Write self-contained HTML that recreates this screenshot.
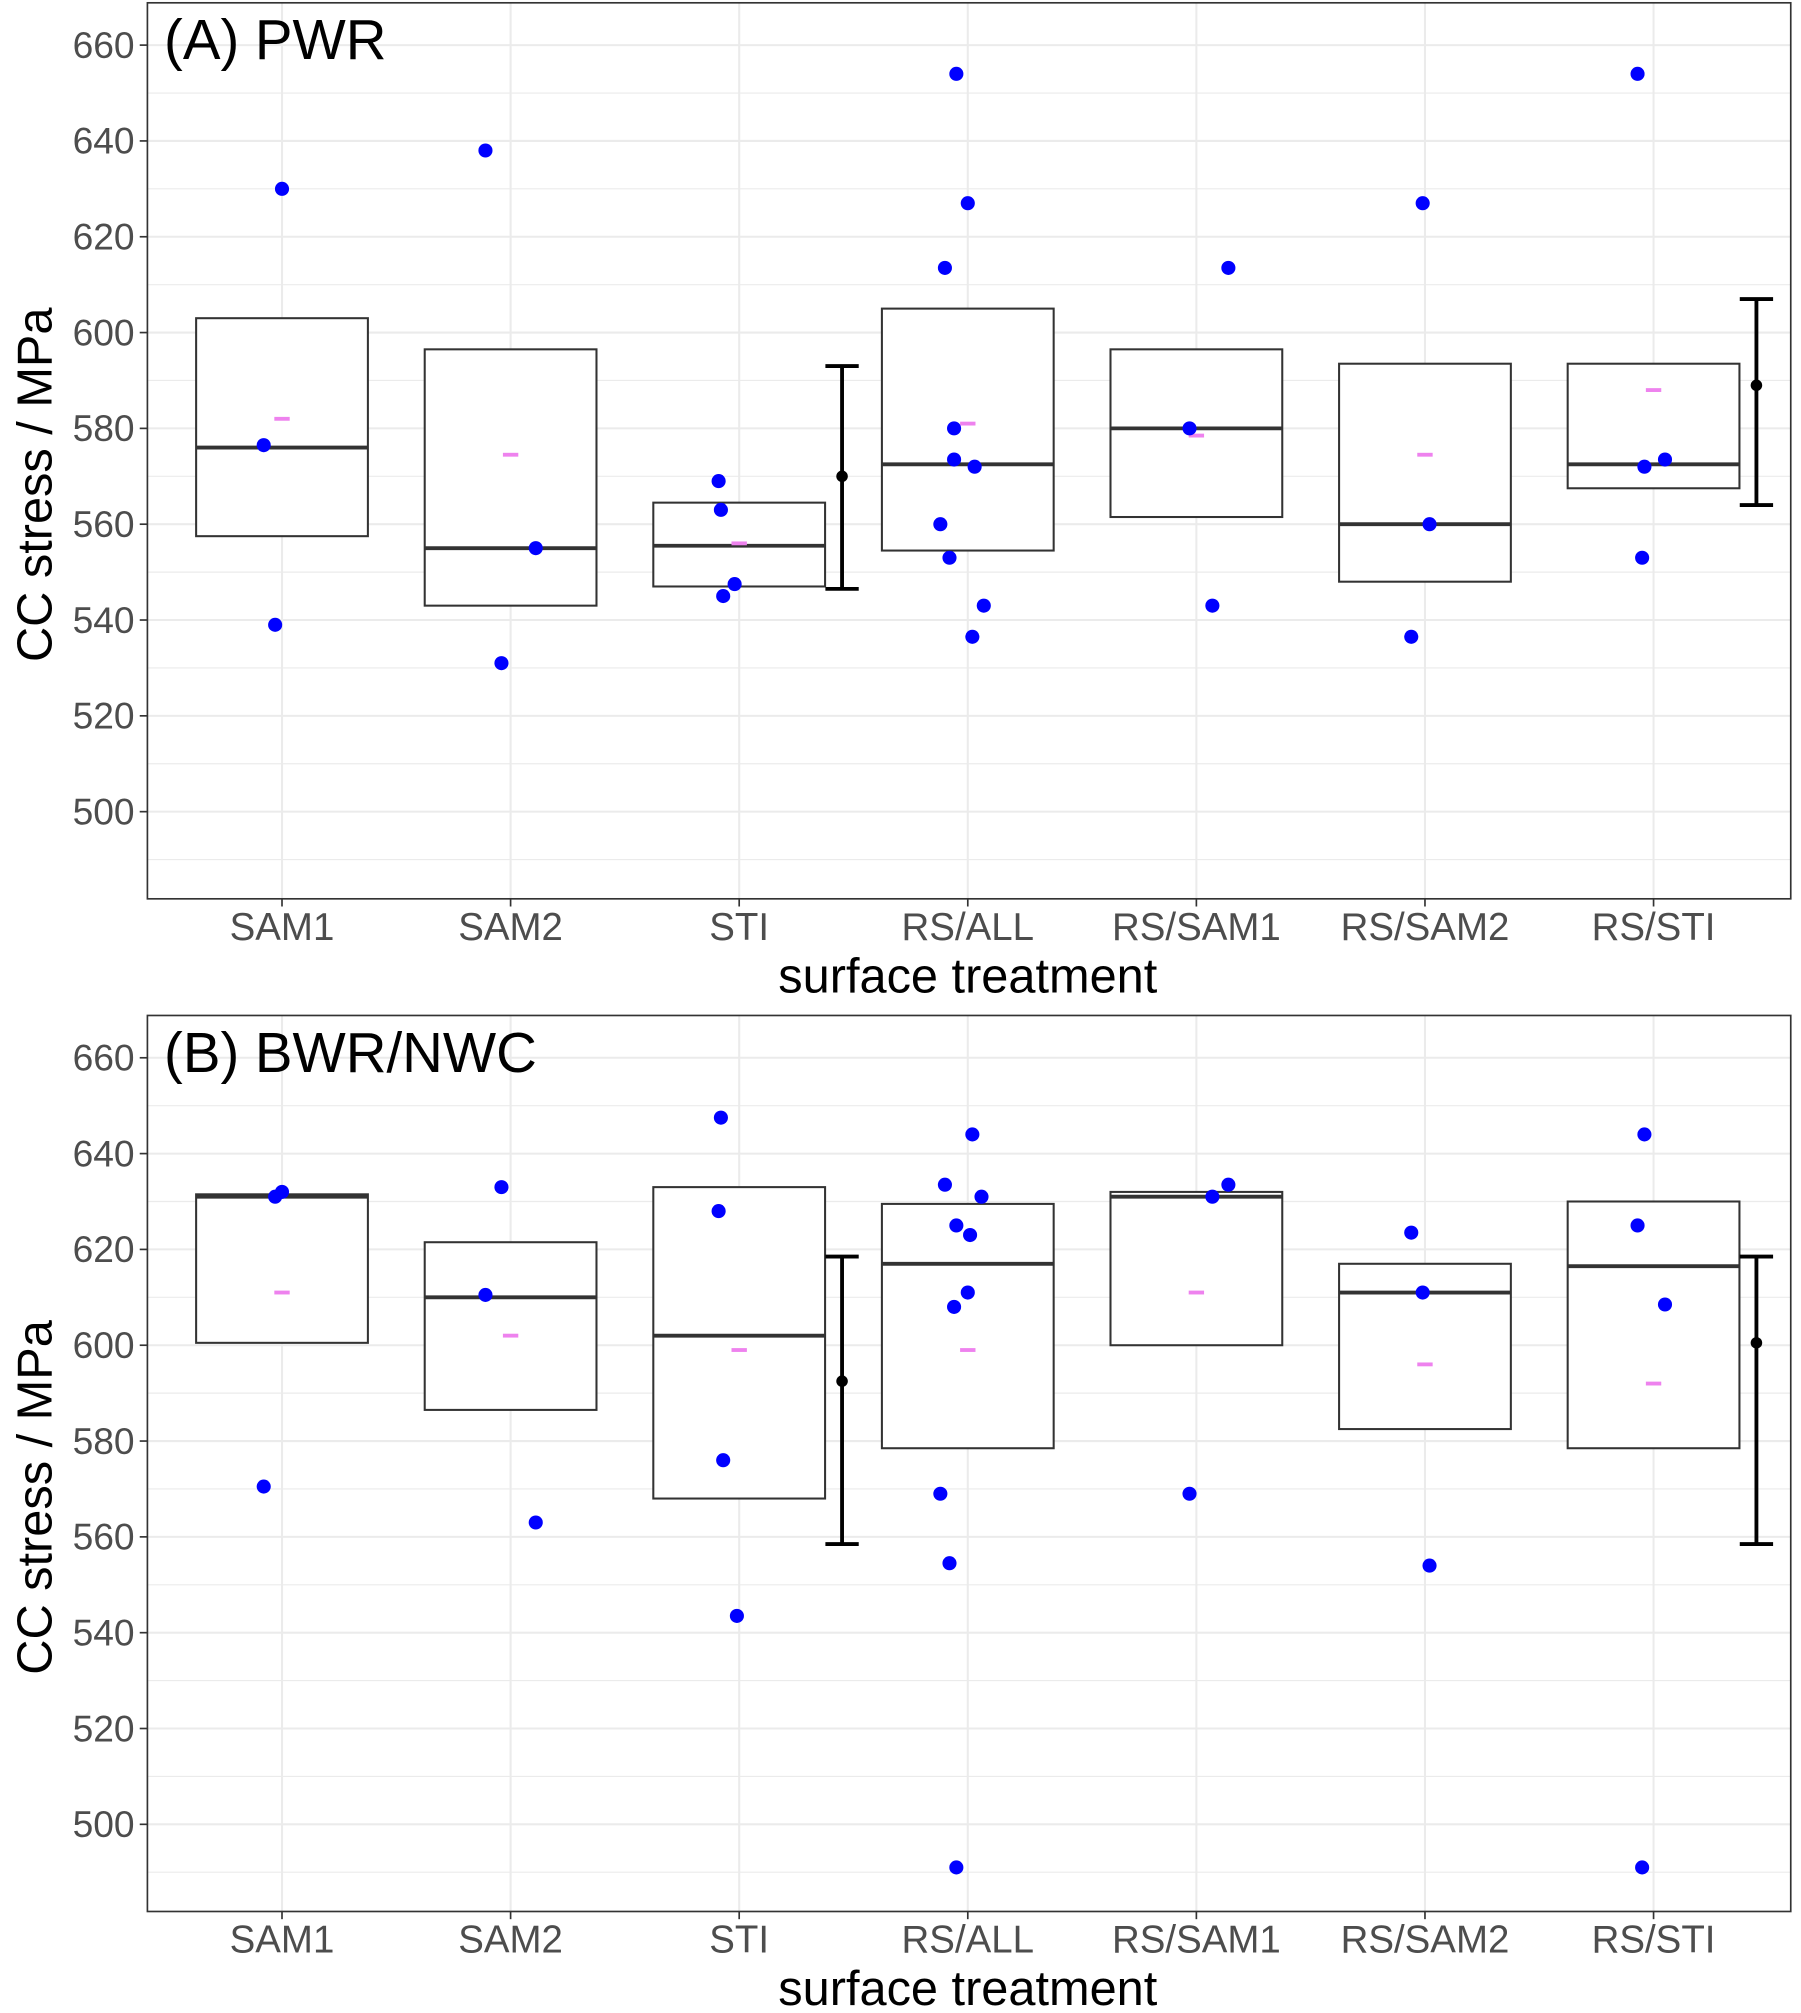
<!DOCTYPE html>
<html><head><meta charset="utf-8"><style>
html,body{margin:0;padding:0;background:#fff}
svg{display:block}
text{font-family:"Liberation Sans",Arial,sans-serif}
</style></head><body>
<svg id="chart" width="1801" height="2013" viewBox="0 0 1405 1570" xmlns="http://www.w3.org/2000/svg"></svg>
<script>
const categories=["SAM1","SAM2","STI","RS/ALL","RS/SAM1","RS/SAM2","RS/STI"];
const yTicks=[500,520,540,560,580,600,620,640,660];
// Panel A (PWR)
const aQ1=[557.5,543,547,554.5,561.5,548,567.5];
const aMed=[576,555,555.5,572.5,580,560,572.5];
const aQ3=[603,596.5,564.5,605,596.5,593.5,593.5];
const aMean=[582,574.5,556,581,578.5,574.5,588];
const aPoints=[[630,576.5,539],[638,555,531],[569,563,547.5,545],[654,627,613.5,580,573.5,572,560,553,543,536.5],[613.5,580,543],[627,560,536.5],[654,573.5,572,553]];
const aJitter=[[0,-0.08,-0.03],[-0.11,0.11,-0.04],[-0.09,-0.08,-0.02,-0.07],[-0.05,0,-0.1,-0.06,-0.06,0.03,-0.12,-0.08,0.07,0.02],[0.14,-0.03,0.07],[-0.01,0.02,-0.06],[-0.07,0.05,-0.04,-0.05]];
const aErr=[[546.5,570,593],[564,589,607]];
// Panel B (BWR/NWC)
const bQ1=[600.5,586.5,568,578.5,600,582.5,578.5];
const bMed=[631,610,602,617,631,611,616.5];
const bQ3=[631.5,621.5,633,629.5,632,617,630];
const bMean=[611,602,599,599,611,596,592];
const bPoints=[[631,632,570.5],[633,610.5,563],[647.5,628,576,543.5],[644,633.5,631,625,623,611,608,569,554.5,491],[633.5,631,569],[623.5,611,554],[644,625,608.5,491]];
const bJitter=[[-0.03,0,-0.08],[-0.04,-0.11,0.11],[-0.08,-0.09,-0.07,-0.01],[0.02,-0.1,0.06,-0.05,0.01,0,-0.06,-0.12,-0.08,-0.05],[0.14,0.07,-0.03],[-0.06,-0.01,0.02],[-0.04,-0.07,0.05,-0.05]];
const bErr=[[558.5,592.5,618.5],[558.5,600.5,618.5]];
const errX=[2.45,6.45];

const NS="http://www.w3.org/2000/svg";
const svg=document.getElementById('chart');
function el(tag,attrs,parent){const e=document.createElementNS(NS,tag);for(const k in attrs)e.setAttribute(k,attrs[k]);(parent||svg).appendChild(e);return e;}
const X0=220,DX=178.33,HALF=67;
function xs(i){return X0+i*DX;}

function panel(off,title,q1,med,q3,mean,pts,jit,err,pname){
  const ys=v=>off+633-(v-500)*3.7375;
  const top=off+2,bot=off+701;
  const g=el('g',{});
  
  
  el('rect',{x:115,y:top,width:1282,height:699,fill:'#fff'},g);
  for(let v=490;v<=670;v+=10){const y=ys(v);if(y<top||y>bot)continue;
    const l=el('line',{x1:115,x2:1397,y1:y,y2:y,stroke:'#ebebeb','stroke-width':v%20===0?1.6:0.9},g);
    }
  categories.forEach((c,i)=>{const l=el('line',{x1:xs(i),x2:xs(i),y1:top,y2:bot,stroke:'#ebebeb','stroke-width':1.6},g);
    });
  categories.forEach((c,i)=>{
    const r=el('rect',{x:xs(i)-HALF,y:ys(q3[i]),width:2*HALF,height:ys(q1[i])-ys(q3[i]),fill:'#fff',stroke:'#333','stroke-width':1.6},g);
    
    
    const m=el('line',{x1:xs(i)-HALF,x2:xs(i)+HALF,y1:ys(med[i]),y2:ys(med[i]),stroke:'#333','stroke-width':3},g);
    
    const mn=el('line',{x1:xs(i)-6,x2:xs(i)+6,y1:ys(mean[i]),y2:ys(mean[i]),stroke:'#ee82ee','stroke-width':3},g);
    
    pts[i].forEach((v,j)=>{const p=el('circle',{cx:xs(i)+jit[i][j]*DX,cy:ys(v),r:5.5,fill:'#0000ff'},g);
      });
  });
  err.forEach((e,k)=>{const x=X0+errX[k]*DX;
    const eg=el('g',{},g);
    el('line',{x1:x,x2:x,y1:ys(e[0]),y2:ys(e[2]),stroke:'#000','stroke-width':3},eg);
    el('line',{x1:x-13,x2:x+13,y1:ys(e[0]),y2:ys(e[0]),stroke:'#000','stroke-width':3},eg);
    el('line',{x1:x-13,x2:x+13,y1:ys(e[2]),y2:ys(e[2]),stroke:'#000','stroke-width':3},eg);
    el('circle',{cx:x,cy:ys(e[1]),r:4.5,fill:'#000'},eg);});
  const fr=el('rect',{x:115,y:top,width:1282,height:699,fill:'none',stroke:'#333','stroke-width':1.3},g);
  
  yTicks.forEach(v=>{const y=ys(v);
    el('line',{x1:109,x2:115,y1:y,y2:y,stroke:'#333','stroke-width':1.3},g);
    const t=el('text',{x:105,y:y+10,'text-anchor':'end','font-size':29,fill:'#4d4d4d'},g);t.textContent=v;
    });
  categories.forEach((c,i)=>{
    el('line',{x1:xs(i),x2:xs(i),y1:bot,y2:bot+6,stroke:'#333','stroke-width':1.3},g);
    const t=el('text',{x:xs(i),y:off+733,'text-anchor':'middle','font-size':30,fill:'#4d4d4d'},g);t.textContent=c;
    });
  const xt=el('text',{x:755,y:off+774,'text-anchor':'middle','font-size':38,fill:'#000'},g);xt.textContent='surface treatment';
  
  const yt=el('text',{x:0,y:0,'text-anchor':'middle','font-size':38,fill:'#000',transform:`translate(40,${off+378}) rotate(-90)`},g);yt.textContent='CC stress / MPa';
  
  const tt=el('text',{x:128,y:off+46,'font-size':44,fill:'#000'},g);tt.textContent=title;
  
}
panel(0,'(A) PWR',aQ1,aMed,aQ3,aMean,aPoints,aJitter,aErr,'panel-a-pwr');
panel(790,'(B) BWR/NWC',bQ1,bMed,bQ3,bMean,bPoints,bJitter,bErr,'panel-b-bwr');
</script>
</body></html>
